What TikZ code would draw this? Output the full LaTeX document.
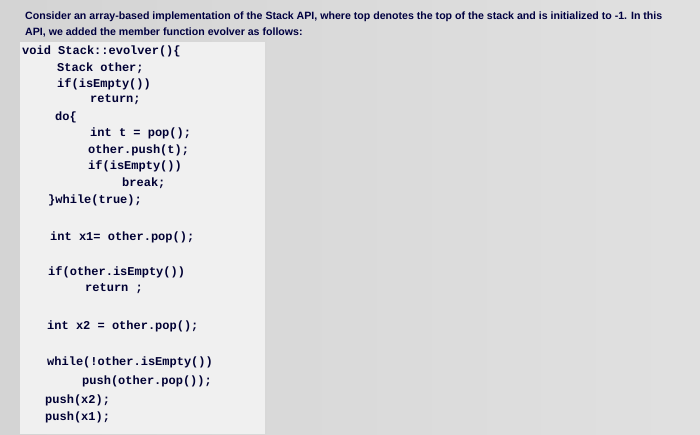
\documentclass[tikz,border=0pt]{standalone}
\usepackage{fontspec}
\setmainfont{Liberation Sans}
\newfontfamily\codefont{Liberation Mono}
\begin{document}
\begin{tikzpicture}[x=1pt,y=-1pt,
  code/.style={anchor=west,inner sep=0pt,font=\codefont\bfseries\fontsize{12}{12}\selectfont,text=black!80!blue},
  head/.style={anchor=west,inner sep=0pt,font=\bfseries\fontsize{10.6}{11}\selectfont,text=black!75!blue}]
\useasboundingbox (0,0) rectangle (700,434);
\shade[left color=black!17,right color=black!12] (0,0) rectangle (700,434);
\fill[black!6] (20,42) rectangle (265,434);
\node[head] (h1) at (25,17) {Consider an array-based implementation of the Stack API, where top denotes the top of the stack and is initialized to -1. In this};
\node[head] (h2) at (25,32) {API, we added the member function evolver as follows:};
\node[code] (l1) at (22,51) {void Stack::evolver()\{};
\node[code] (l2) at (57,68) {Stack other;};
\node[code] (l3) at (57,84) {if(isEmpty())};
\node[code] (l4) at (90,100) {return;};
\node[code] (l5) at (55,117) {do\{};
\node[code] (l6) at (90,133) {int t = pop();};
\node[code] (l7) at (88,150) {other.push(t);};
\node[code] (l8) at (88,166) {if(isEmpty())};
\node[code] (l9) at (122,183) {break;};
\node[code] (l10) at (48,200) {\}while(true);};
\node[code] (l11) at (50,237) {int x1= other.pop();};
\node[code] (l12) at (48,272) {if(other.isEmpty())};
\node[code] (l13) at (85,289) {return ;};
\node[code] (l14) at (47,326) {int x2 = other.pop();};
\node[code] (l15) at (47,362) {while(!other.isEmpty())};
\node[code] (l16) at (82,381) {push(other.pop());};
\node[code] (l17) at (45,400) {push(x2);};
\node[code] (l18) at (45,417) {push(x1);};
\end{tikzpicture}
\end{document}
